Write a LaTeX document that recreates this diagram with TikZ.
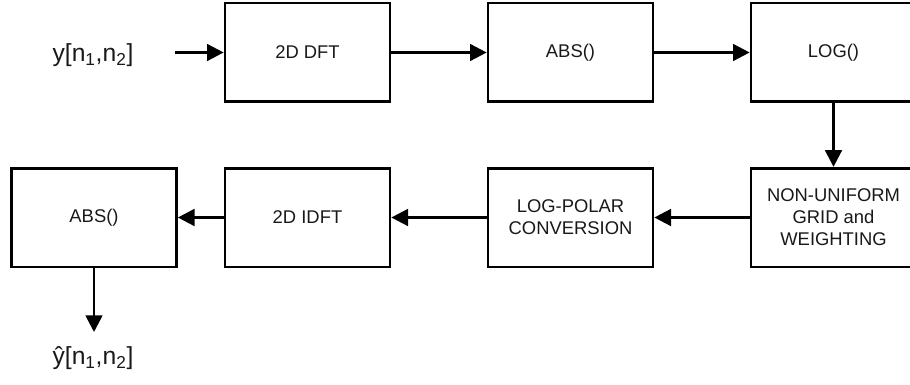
\documentclass[tikz,border=0pt]{standalone}
\usepackage{fontspec}
\setmainfont{Liberation Sans}
\usetikzlibrary{arrows.meta}
\begin{document}
\begin{tikzpicture}[x=0.75pt,y=-0.75pt,
  blk/.style={draw=black,line width=2pt,fill=white,minimum width=123.75pt,minimum height=74pt,inner sep=0pt,align=center,font=\fontsize{13.8}{16.5}\selectfont,text=black!90},
  lbl/.style={inner sep=0pt,font=\fontsize{18.5}{22}\selectfont,text=black!90},
  arr/.style={line width=2pt,-{Triangle[length=12.5pt,width=12.5pt]}}]
\useasboundingbox (0,0) rectangle (910,385);
\node[blk] (dft) at (307.5,52.5) {2D DFT};
\node[blk] (abs1) at (570.5,52.5) {ABS()};
\node[blk] (log) at (833.5,52.5) {LOG()};
\node[blk] (nug) at (833.5,217.5) {NON-UNIFORM\\GRID and\\WEIGHTING};
\node[blk] (lp) at (570.5,217.5) {LOG-POLAR\\CONVERSION};
\node[blk] (idft) at (307.5,217.5) {2D IDFT};
\node[blk] (abs2) at (94,217.5) {ABS()};
\node[lbl] (in) at (93,55) {y[n\textsubscript{1},n\textsubscript{2}]};
\node[lbl] (out) at (93,358) {ŷ[n\textsubscript{1},n\textsubscript{2}]};
\coordinate (inend) at (175,52.5);
\coordinate (outend) at (94,332);
\draw[arr] (inend) -- (dft.west);
\draw[arr] (dft) -- (abs1);
\draw[arr] (abs1) -- (log);
\draw[arr] (log) -- (nug);
\draw[arr] (nug) -- (lp);
\draw[arr] (lp) -- (idft);
\draw[arr] (idft) -- (abs2);
\draw[arr] (abs2.south) -- (outend);
\end{tikzpicture}
\end{document}
